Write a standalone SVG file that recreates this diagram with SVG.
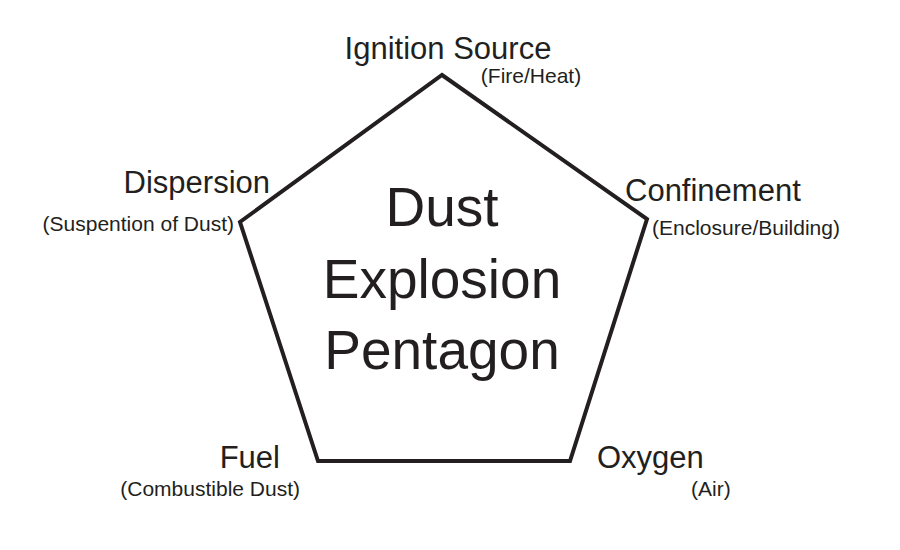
<svg xmlns="http://www.w3.org/2000/svg" width="900" height="550" viewBox="0 0 900 550">
<style>
text{font-family:"Liberation Sans","Open Sans",sans-serif;fill:#231f20}
.l{font-size:31px}
.s{font-size:21px}
.c{font-size:55px;text-anchor:middle}
</style>
<rect width="900" height="550" fill="#fff"/>
<g id="connectors">
<polygon points="442,75 647,219 570,461 318,461 240,222" fill="none" stroke="#231f20" stroke-width="4" stroke-linejoin="miter"/>
</g>
<g id="center"><text class="c" x="442" y="226">Dust</text><text class="c" x="442" y="298">Explosion</text><text class="c" x="442" y="369">Pentagon</text></g>
<g id="ignition"><text class="l" x="448" y="59" text-anchor="middle">Ignition Source</text><text class="s" x="531" y="83" text-anchor="middle">(Fire/Heat)</text></g>
<g id="dispersion"><text class="l" x="270" y="193" text-anchor="end">Dispersion</text><text class="s" x="234" y="231" text-anchor="end">(Suspention of Dust)</text></g>
<g id="confinement"><text class="l" x="625" y="201">Confinement</text><text class="s" x="652" y="235">(Enclosure/Building)</text></g>
<g id="fuel"><text class="l" x="280" y="468" text-anchor="end">Fuel</text><text class="s" x="300" y="496" text-anchor="end">(Combustible Dust)</text></g>
<g id="oxygen"><text class="l" x="597" y="468">Oxygen</text><text class="s" x="691" y="496">(Air)</text></g>
</svg>
